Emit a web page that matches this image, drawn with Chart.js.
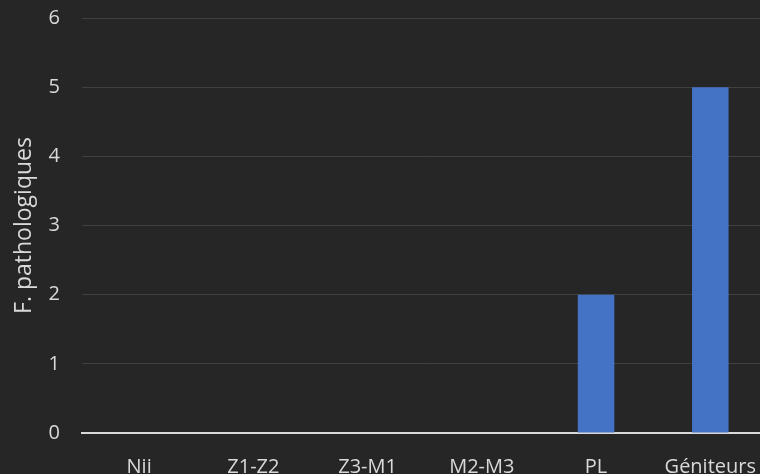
<!DOCTYPE html>
<html>
<head>
<meta charset="utf-8">
<script src="https://cdn.jsdelivr.net/npm/chart.js@4/dist/chart.umd.min.js"></script>
<style>
  html, body { margin: 0; padding: 0; background: #262626; overflow: hidden; }
  #wrap { width: 770px; height: 474px; overflow: hidden; }
  #c { display: block; margin-top: -16px; }
</style>
</head>
<body>
<div id="wrap"><canvas id="c" width="770" height="490"></canvas></div>
<script>
const categories = ["Nii", "Z1-Z2", "Z3-M1", "M2-M3", "PL", "Géniteurs"];
const values = [0, 0, 0, 0, 2, 5];
const yTicks = [0, 1, 2, 3, 4, 5, 6];
const yTitle = "F. pathologiques";

const textColor = "#d9d9d9";
const fontFamily = "'Open Sans', Lato, sans-serif";

new Chart(document.getElementById("c"), {
  type: "bar",
  data: {
    labels: categories,
    datasets: [{
      data: values,
      backgroundColor: "#4472C4",
      borderWidth: 0,
      categoryPercentage: 1,
      barPercentage: 0.32
    }]
  },
  options: {
    responsive: false,
    animation: false,
    layout: { padding: { top: 0, left: 0, right: 0, bottom: 0 } },
    plugins: { legend: { display: false }, tooltip: { enabled: false } },
    scales: {
      x: {
        grid: { display: false },
        border: { display: true, color: "#d9d9d9", width: 2 },
        ticks: { color: textColor, font: { family: fontFamily, size: 20 }, padding: 14, minRotation: 0, maxRotation: 0, autoSkip: false },
        afterFit: (scale) => { scale.height = 41; }
      },
      y: {
        min: 0,
        max: 6,
        afterBuildTicks: (axis) => { axis.ticks = yTicks.map(v => ({ value: v })); },
        grid: { color: "#404040", lineWidth: 1, drawTicks: false },
        border: { display: false },
        ticks: { color: textColor, font: { family: fontFamily, size: 20 }, padding: 22 },
        title: {
          display: true,
          text: yTitle,
          color: textColor,
          font: { family: fontFamily, size: 23 },
          padding: { top: 11, bottom: 0 }
        },
        afterFit: (scale) => { scale.width = 82; }
      }
    }
  }
});
</script>
</body>
</html>
